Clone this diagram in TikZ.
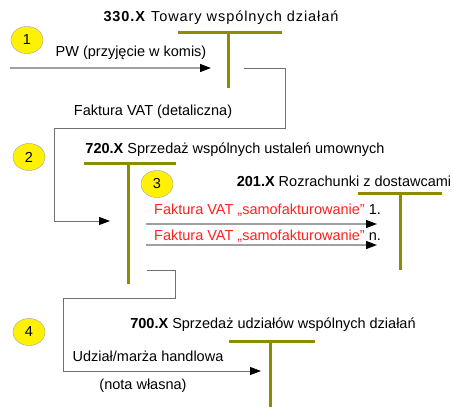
\documentclass[tikz,border=0pt]{standalone}
\usepackage{fontspec}
\setmainfont{Liberation Sans}
\usetikzlibrary{arrows.meta,shapes.geometric}
\definecolor{olivebar}{HTML}{8C8C00}
\definecolor{lgrey}{HTML}{A0A0A0}
\definecolor{dgrey}{HTML}{707070}
\definecolor{redtxt}{HTML}{FF2020}
\begin{document}
\begin{tikzpicture}[x=1pt,y=-1pt,
  every node/.style={font=\fontsize{14.5}{16}\selectfont, inner sep=0pt},
  tbar/.style={draw=olivebar, line width=3pt},
  badge/.style={ellipse, draw=lgrey, fill=yellow, minimum width=32pt, minimum height=27pt},
  flow/.style={draw=lgrey, line width=1.2pt, -{Triangle[length=11pt,width=8pt,color=black]}},
  connarrow/.style={draw=dgrey, line width=0.8pt, -{Triangle[length=11pt,width=8pt,color=black]}},
  lbl/.style={anchor=center},
  ttl/.style={anchor=center}]
\useasboundingbox (0,0) rectangle (454,407);

% T-account 330.X
\node[ttl] (t1) at (221,18) {\addfontfeature{LetterSpace=6.5}\textbf{330.X} Towary wspólnych działań};
\coordinate (t1l) at (178,32); \coordinate (t1r) at (282,32);
\coordinate (t1t) at (228,32); \coordinate (t1b) at (228,88);
\draw[tbar] (t1l) -- (t1r);
\draw[tbar] (t1t) -- (t1b);

% T-account 720.X
\node[ttl] (t2) at (235,150) {\textbf{720.X} Sprzedaż wspólnych ustaleń umownych};
\coordinate (t2l) at (84,163); \coordinate (t2r) at (176,163);
\coordinate (t2t) at (128,163); \coordinate (t2b) at (128,284);
\draw[tbar] (t2l) -- (t2r);
\draw[tbar] (t2t) -- (t2b);

% T-account 201.X
\node[ttl] (t3) at (344,181) {\textbf{201.X} Rozrachunki z dostawcami};
\coordinate (t3l) at (358,193); \coordinate (t3r) at (442,193);
\coordinate (t3t) at (400,193); \coordinate (t3b) at (400,270);
\draw[tbar] (t3l) -- (t3r);
\draw[tbar] (t3t) -- (t3b);

% T-account 700.X
\node[ttl] (t4) at (273,325) {\textbf{700.X} Sprzedaż udziałów wspólnych działań};
\coordinate (t4l) at (229,341); \coordinate (t4r) at (315,341);
\coordinate (t4t) at (270,341); \coordinate (t4b) at (270,407);
\draw[tbar] (t4l) -- (t4r);
\draw[tbar] (t4t) -- (t4b);

% badges
\node[badge] (b1) at (27,40) {1};
\node[badge] (b2) at (29,157) {2};
\node[badge] (b3) at (157,184) {3};
\node[badge] (b4) at (29,332) {4};

% flow 1
\coordinate (p1s) at (10,68); \coordinate (p1e) at (211,68);
\draw[flow] (p1s) -- (p1e);
\node[lbl] (l1) at (131,53) {PW (przyjęcie w komis)};

% flow 2
\coordinate (c2s) at (244,68); \coordinate (c2e) at (110,221);
\draw[connarrow] (c2s) -- (285,68) -- (285,128) -- (54,128) -- (54,221) -- (c2e);
\node[lbl] (l2) at (153,112) {Faktura VAT (detaliczna)};

% flow 3
\coordinate (r1s) at (146,224); \coordinate (r1e) at (377,224);
\coordinate (r2s) at (146,245); \coordinate (r2e) at (377,245);
\draw[flow] (r1s) -- (r1e);
\draw[flow] (r2s) -- (r2e);
\node[anchor=west] (l3a) at (154,210) {\textcolor{redtxt}{Faktura VAT „samofakturowanie”} 1.};
\node[anchor=west] (l3b) at (154,236) {\textcolor{redtxt}{Faktura VAT „samofakturowanie”} n.};

% flow 4
\coordinate (c4s) at (147,270); \coordinate (c4e) at (261,371);
\draw[connarrow] (c4s) -- (175,270) -- (175,298) -- (63,298) -- (63,371) -- (c4e);
\node[lbl] (l4a) at (148,356) {Udział/marża handlowa};
\node[lbl] (l4b) at (143,386) {(nota własna)};
\end{tikzpicture}
\end{document}
